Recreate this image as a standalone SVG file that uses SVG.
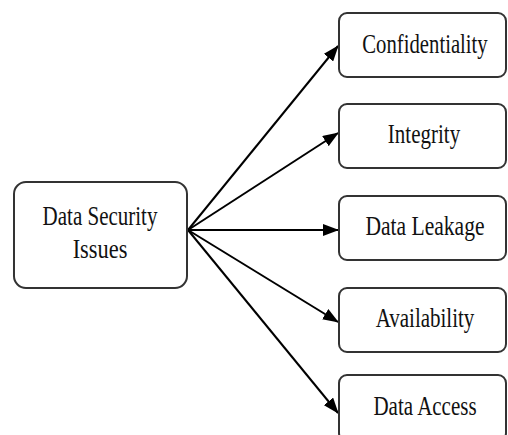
<svg xmlns="http://www.w3.org/2000/svg" width="508" height="435" viewBox="0 0 508 435">
<style>
.box{fill:#fff;stroke:#333;stroke-width:2}
.t{font-family:"Liberation Serif","Times New Roman",serif;font-size:28px;fill:#111;text-anchor:middle}
.c{stroke:#000;stroke-width:2;fill:none;marker-end:url(#ah)}
</style>
<defs>
<marker id="ah" viewBox="0 0 16 12" refX="15" refY="6" markerWidth="16" markerHeight="12" markerUnits="userSpaceOnUse" orient="auto">
<path d="M0,0 L16,6 L0,12 Z" fill="#000"/>
</marker>
</defs>
<g id="connectors">
<line class="c" x1="188" y1="230" x2="338" y2="46"/>
<line class="c" x1="188" y1="230" x2="338" y2="133"/>
<line class="c" x1="188" y1="230" x2="338" y2="230"/>
<line class="c" x1="188" y1="230" x2="338" y2="322"/>
<line class="c" x1="188" y1="230" x2="338" y2="413"/>
</g>
<g id="data-security-issues">
<rect class="box" x="14" y="182" width="173" height="106" rx="12"/>
<text class="t" transform="translate(100,225) scale(0.75,1)">Data Security</text>
<text class="t" transform="translate(100,258) scale(0.8,1)">Issues</text>
</g>
<g id="confidentiality">
<rect class="box" x="339" y="13" width="167" height="64" rx="8"/>
<text class="t" transform="translate(425,53) scale(0.74,1)">Confidentiality</text>
</g>
<g id="integrity">
<rect class="box" x="339" y="104" width="167" height="64" rx="8"/>
<text class="t" transform="translate(424,143) scale(0.75,1)">Integrity</text>
</g>
<g id="data-leakage">
<rect class="box" x="339" y="196" width="167" height="64" rx="8"/>
<text class="t" transform="translate(425,235) scale(0.77,1)">Data Leakage</text>
</g>
<g id="availability">
<rect class="box" x="339" y="288" width="167" height="64" rx="8"/>
<text class="t" transform="translate(425,327) scale(0.75,1)">Availability</text>
</g>
<g id="data-access">
<rect class="box" x="339" y="375" width="167" height="66" rx="8"/>
<text class="t" transform="translate(425,415) scale(0.75,1)">Data Access</text>
</g>
</svg>
